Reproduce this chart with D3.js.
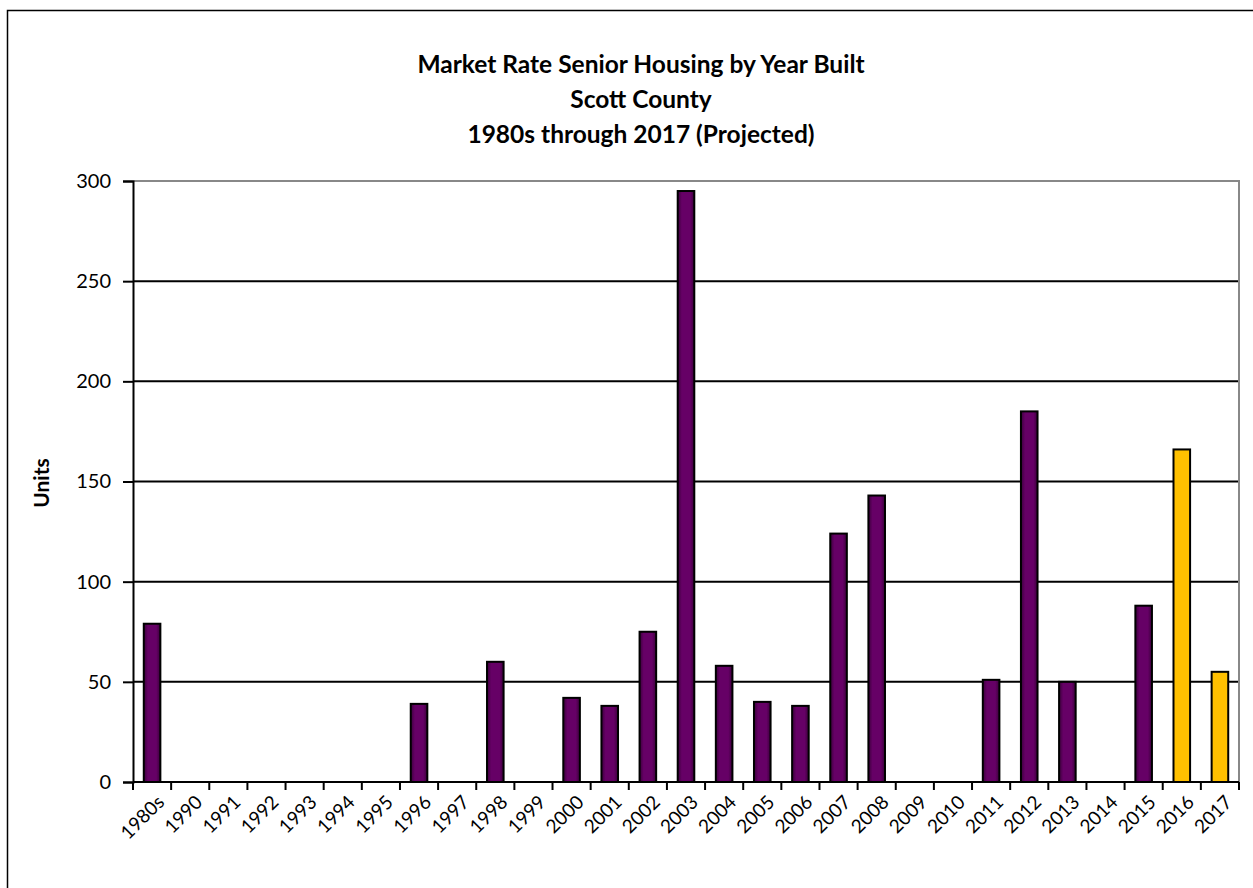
<!DOCTYPE html>
<html>
<head>
<meta charset="utf-8">
<script src="https://cdn.jsdelivr.net/npm/d3@7"></script>
<style>
  body { margin: 0; background: #fff; }
  text { font-family: Lato, "Open Sans", sans-serif; }
</style>
</head>
<body>
<div id="chart"></div>
<script>
var width = 1253;
var height = 888;

// values
var years = ["1980s", "1990", "1991", "1992", "1993", "1994", "1995", "1996", "1997", "1998", "1999",
             "2000", "2001", "2002", "2003", "2004", "2005", "2006", "2007", "2008", "2009", "2010",
             "2011", "2012", "2013", "2014", "2015", "2016", "2017"];
var units = [79, 0, 0, 0, 0, 0, 0, 39, 0, 60, 0,
             42, 38, 75, 295, 58, 40, 38, 124, 143, 0, 0,
             51, 185, 50, 0, 88, 166, 55];
var projected = ["2016", "2017"];
var yTicks = [0, 50, 100, 150, 200, 250, 300];
var titleLines = ["Market Rate Senior Housing by Year Built", "Scott County", "1980s through 2017 (Projected)"];

var svg = d3.select("#chart")
    .append("svg")
    .attr("width", width)
    .attr("height", height);

// slight shading on the purple bars' edges
var grad = svg.append("defs").append("linearGradient")
    .attr("id", "purpleGrad")
    .attr("x1", "0%").attr("x2", "100%").attr("y1", "0%").attr("y2", "0%");
grad.append("stop").attr("offset", "0%").attr("stop-color", "#3a003a");
grad.append("stop").attr("offset", "25%").attr("stop-color", "#660066");
grad.append("stop").attr("offset", "75%").attr("stop-color", "#660066");
grad.append("stop").attr("offset", "100%").attr("stop-color", "#3a003a");

// outer chart border
svg.append("rect")
    .attr("x", 7.5).attr("y", 10.5)
    .attr("width", 1260).attr("height", 900)
    .attr("fill", "none")
    .attr("stroke", "black")
    .attr("stroke-width", 1.5);

// plot area (note: "top" is taken by window.top)
var plotLeft = 133, plotRight = 1239, plotTop = 181, plotBottom = 782;

var xScale = d3.scaleBand().domain(years).range([plotLeft, plotRight]).paddingInner(0.565).paddingOuter(0.2825);
var yScale = d3.scaleLinear().domain([0, 300]).range([plotBottom, plotTop]);

// gridlines
svg.append("g")
    .selectAll("line")
    .data(yTicks.filter(function(d) { return d > 0 && d < 300; }))
    .enter()
    .append("line")
    .attr("x1", plotLeft).attr("x2", plotRight)
    .attr("y1", function(d) { return yScale(d); })
    .attr("y2", function(d) { return yScale(d); })
    .attr("stroke", "black")
    .attr("stroke-width", 2);

// plot area border (top and right are grey)
svg.append("path")
    .attr("d", "M" + plotLeft + "," + plotTop + "H" + plotRight + "V" + plotBottom)
    .attr("fill", "none")
    .attr("stroke", "#888")
    .attr("stroke-width", 2);

// bars
svg.append("g")
    .selectAll("rect")
    .data(years.filter(function(d, i) { return units[i] > 0; }))
    .enter()
    .append("rect")
    .attr("x", function(d) { return xScale(d); })
    .attr("width", xScale.bandwidth())
    .attr("y", function(d) { return yScale(units[years.indexOf(d)]); })
    .attr("height", function(d) { return plotBottom - yScale(units[years.indexOf(d)]); })
    .attr("fill", function(d) { return projected.indexOf(d) >= 0 ? "#FFC000" : "url(#purpleGrad)"; })
    .attr("stroke", "black")
    .attr("stroke-width", 2);

// y axis
var yAxis = d3.axisLeft(yScale).tickValues(yTicks).tickSize(10).tickPadding(12);
var yG = svg.append("g")
    .attr("transform", "translate(" + plotLeft + ",0)")
    .call(yAxis);
yG.select(".domain").attr("stroke", "black").attr("stroke-width", 2);
yG.selectAll(".tick line").attr("stroke", "black").attr("stroke-width", 2);
yG.selectAll(".tick text")
    .style("font-family", "Lato, 'Open Sans', sans-serif")
    .style("font-size", "20px")
    .attr("fill", "black");

// x axis: ticks sit on category boundaries
var step = xScale.step();
var xG = svg.append("g").attr("transform", "translate(0," + plotBottom + ")");
xG.append("line")
    .attr("x1", plotLeft).attr("x2", plotRight)
    .attr("stroke", "black").attr("stroke-width", 2);
xG.selectAll(".xtick")
    .data(d3.range(years.length + 1))
    .enter()
    .append("line")
    .attr("x1", function(i) { return plotLeft + i * step; })
    .attr("x2", function(i) { return plotLeft + i * step; })
    .attr("y1", 0).attr("y2", 8)
    .attr("stroke", "black").attr("stroke-width", 2);
xG.selectAll(".xlabel")
    .data(years)
    .enter()
    .append("text")
    .attr("transform", function(d) {
        return "translate(" + (xScale(d) + xScale.bandwidth() / 2 + 4) + ",12) rotate(-45)";
    })
    .attr("text-anchor", "end")
    .attr("dy", "0.7em")
    .style("font-size", "19px")
    .attr("fill", "black")
    .text(function(d) { return d; });

// y axis title
svg.append("text")
    .attr("transform", "translate(49,483) rotate(-90)")
    .attr("text-anchor", "middle")
    .style("font-size", "21px")
    .style("font-weight", "bold")
    .text("Units");

// chart title
svg.append("g")
    .selectAll("text")
    .data(titleLines)
    .enter()
    .append("text")
    .attr("x", 641)
    .attr("y", function(d, i) { return 73 + i * 35; })
    .attr("text-anchor", "middle")
    .style("font-size", "24.5px")
    .style("font-weight", "bold")
    .text(function(d) { return d; });
</script>
</body>
</html>
